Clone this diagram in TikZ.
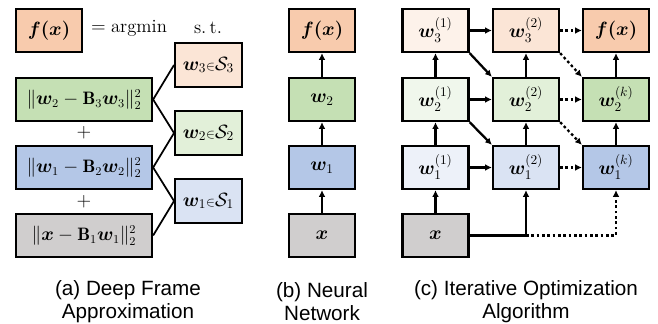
\documentclass[tikz,border=0pt]{standalone}
\usepackage{amsmath}
\usepackage{bm}
\usepackage{fontspec}
\setsansfont{Liberation Sans}
\usetikzlibrary{arrows.meta}

\definecolor{orangeA}{HTML}{F8CBAD}
\definecolor{orangeB}{HTML}{FBE5D6}
\definecolor{orangeC}{HTML}{FDF2EA}
\definecolor{greenA}{HTML}{C5E0B4}
\definecolor{greenB}{HTML}{E2F0D9}
\definecolor{greenC}{HTML}{F0F7EC}
\definecolor{blueA}{HTML}{B4C7E7}
\definecolor{blueB}{HTML}{DAE3F3}
\definecolor{blueC}{HTML}{EDF1F9}
\definecolor{grayA}{HTML}{D0CECE}

\tikzset{
    block/.style={draw, rectangle, minimum width=49.5pt, minimum height=32.25pt, line width=1.7pt, inner sep=0pt, text centered, font=\fontsize{14}{16}\selectfont},
    wide/.style={block, minimum width=102pt, font=\fontsize{13.5}{15}\selectfont},
    arr/.style={-{Latex[length=5pt,width=5pt]}, line width=1.7pt},
    dotarr/.style={arr, dash pattern=on 2pt off 2pt},
    caption/.style={align=center, font=\sffamily\fontsize{15.5}{17.5}\selectfont}
}

\begin{document}
\begin{tikzpicture}[x=0.75pt, y=-0.75pt]
        \useasboundingbox (0,0) rectangle (658,324);

        % (a) Deep frame approximation
        \node [block, fill=orangeA] (fa) at (49,30.5) {$\bm{f(x)}$};
        \node [font=\fontsize{14}{16}\selectfont] (argmin) at (129,28) {$=\mathrm{argmin}$};
        \node [font=\fontsize{14}{16}\selectfont] (st) at (208,28) {$\mathrm{s.\,t.}$};
        \node [wide, fill=greenA] (t3) at (84,99.5) {$\|\bm{w}_2-\mathbf{B}_3\bm{w}_3\|^2_2$};
        \node [font=\fontsize{14}{16}\selectfont] (plusA) at (84,133) {$+$};
        \node [wide, fill=blueA] (t2) at (84,167.5) {$\|\bm{w}_1-\mathbf{B}_2\bm{w}_2\|^2_2$};
        \node [font=\fontsize{14}{16}\selectfont] (plusB) at (84,202) {$+$};
        \node [wide, fill=grayA] (t1) at (84,235.5) {$\|\bm{x}-\mathbf{B}_1\bm{w}_1\|^2_2$};
        \node [block, minimum width=50pt, minimum height=33pt, fill=orangeB] (s3) at (208.5,65) {$\bm{w}_3{\scriptstyle\in}\mathcal{S}_3$};
        \node [block, minimum width=50pt, minimum height=33pt, fill=greenB] (s2) at (208.5,133) {$\bm{w}_2{\scriptstyle\in}\mathcal{S}_2$};
        \node [block, minimum width=50pt, minimum height=33pt, fill=blueB] (s1) at (208.5,201) {$\bm{w}_1{\scriptstyle\in}\mathcal{S}_1$};
        \draw [line width=1.3pt] (s3.west) -- (t3.east) -- (s2.west) -- (t2.east) -- (s1.west) -- (t1.east);

        % (b) Neural network
        \node [block, fill=orangeA] (fb) at (322,30.5) {$\bm{f(x)}$};
        \node [block, fill=greenA] (nw2) at (322,99.5) {$\bm{w}_2$};
        \node [block, fill=blueA] (nw1) at (322,167.5) {$\bm{w}_1$};
        \node [block, fill=grayA] (nx) at (322,235.5) {$\bm{x}$};
        \draw [arr] (nx) -- (nw1);
        \draw [arr] (nw1) -- (nw2);
        \draw [arr] (nw2) -- (fb);

        % (c) Iterative optimization, first column
        \node [block, fill=orangeC] (w31) at (435.5,30.5) {$\bm{w}_3^{(1)}$};
        \node [block, fill=greenC] (w21) at (435.5,99.5) {$\bm{w}_2^{(1)}$};
        \node [block, fill=blueC] (w11) at (435.5,167.5) {$\bm{w}_1^{(1)}$};
        \node [block, fill=grayA] (xc) at (435.5,235.5) {$\bm{x}$};

        % second column
        \node [block, fill=orangeB] (w32) at (526,30.5) {$\bm{w}_3^{(2)}$};
        \node [block, fill=greenB] (w22) at (526,99.5) {$\bm{w}_2^{(2)}$};
        \node [block, fill=blueB] (w12) at (526,167.5) {$\bm{w}_1^{(2)}$};

        % last column
        \node [block, fill=orangeA] (fc) at (616,30.5) {$\bm{f(x)}$};
        \node [block, fill=greenA] (w2k) at (616,99.5) {$\bm{w}_2^{(k)}$};
        \node [block, fill=blueA] (w1k) at (616,167.5) {$\bm{w}_1^{(k)}$};

        % Arrows
        \draw [arr] (xc) -- (w11);
        \draw [arr] (w11) -- (w21);
        \draw [arr] (w21) -- (w31);
        \draw [arr] (w12) -- (w22);
        \draw [arr] (w22) -- (w32);
        \draw [arr] (w1k) -- (w2k);
        \draw [arr] (w2k) -- (fc);
        \draw [arr] (w31) -- (w32);
        \draw [arr] (w21) -- (w22);
        \draw [arr] (w11) -- (w12);
        \draw [arr] (w31.south east) -- (w22.north west);
        \draw [arr] (w21.south east) -- (w12.north west);
        \draw [dotarr] (w32) -- (fc);
        \draw [dotarr] (w22) -- (w2k);
        \draw [dotarr] (w12) -- (w1k);
        \draw [dotarr] (w32.south east) -- (w2k.north west);
        \draw [dotarr] (w22.south east) -- (w1k.north west);
        \coordinate (xjoin) at (w12 |- xc);
        \draw [arr] (xc.east) -- (xjoin) -- (w12.south);
        \draw [dotarr] (xjoin) -- (w1k |- xjoin) -- (w1k.south);

        % Captions
        \node [caption] (capA) at (128,301.5) {(a) Deep Frame\\Approximation};
        \node [caption] (capB) at (322,301.5) {(b) Neural\\Network};
        \node [caption] (capC) at (526,301.5) {(c) Iterative Optimization\\Algorithm};
    \end{tikzpicture}
\end{document}
